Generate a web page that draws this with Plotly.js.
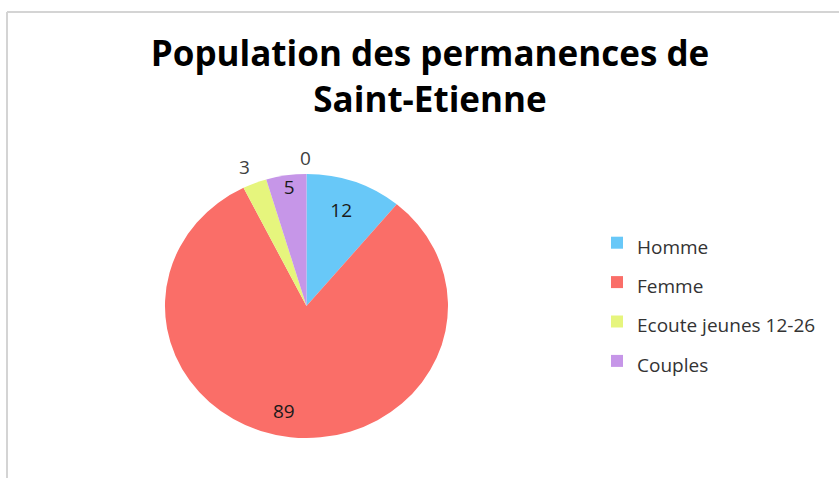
<!DOCTYPE html>
<html lang="fr">
<head>
    <meta charset="UTF-8">
    <title>Population des permanences de Saint-Etienne</title>
    <script src="https://cdn.plot.ly/plotly-3.0.1.min.js"></script>
    <style>
        body, html {
            margin: 0;
            padding: 0;
            background: white;
        }
        #chart {
            width: 839px;
            height: 478px;
        }
    </style>
</head>
<body>
    <div id="chart"></div>
    <script>
        // Values
        const categories = ['Homme', 'Femme', 'Ecoute jeunes 12-26', 'Couples'];
        const counts = [12, 89, 3, 5];
        const sliceColors = ['#68C8F8', '#FA6E68', '#E6F57D', '#C696E8'];
        const labelPositions = ['inside', 'inside', 'outside', 'inside'];
        // empty category shown only as its "0" label at the top of the pie
        const emptyCount = 0;

        const W = 839, H = 478;
        const FONT = '"Open Sans", "DejaVu Sans", sans-serif';
        const NB = '\u00a0';

        // legend spacing comes from the legend font size, the visible text is smaller
        const legendNames = categories.map(c => '<span style="font-size:19px">' + c + '</span>');
        // push the big slice's label further out (down and a bit left), like the original
        const bigPad = NB + '<br>' + NB + '<br>' + NB + '<br>';
        const labelTemplates = ['%{value}', bigPad + '%{value}' + NB.repeat(6), '%{value}', '%{value}'];

        const data = [{
            type: 'pie',
            labels: legendNames,
            values: counts,
            sort: false,
            direction: 'clockwise',
            rotation: 0,
            marker: { colors: sliceColors, line: { width: 0 } },
            texttemplate: labelTemplates,
            textposition: labelPositions,
            insidetextorientation: 'horizontal',
            textfont: { family: FONT, size: 19, color: '#1a1a1a' },
            outsidetextfont: { family: FONT, size: 19, color: '#404040' },
            hoverinfo: 'label+value',
            domain: { x: [0.2020, 0.5286], y: [0.0732, 0.6464] }
        }];

        const layout = {
            width: W,
            height: H,
            margin: { t: 0, r: 0, b: 0, l: 0 },
            paper_bgcolor: 'white',
            font: { family: FONT, color: '#333' },
            title: {
                text: 'Population des permanences de<br>Saint-Etienne',
                font: { family: FONT, size: 35, weight: 'bold', color: '#000' },
                x: 0.5125,
                xanchor: 'center',
                xref: 'paper',
                y: 1 - 66 / H,
                yref: 'container',
                yanchor: 'top'
            },
            showlegend: true,
            legend: {
                x: 597 / W,
                xanchor: 'left',
                y: 1 - 218 / H,
                yanchor: 'top',
                font: { family: FONT, size: 28, color: '#333' },
                bgcolor: 'rgba(0,0,0,0)'
            },
            annotations: [{
                text: String(emptyCount),
                xref: 'paper', yref: 'paper',
                x: 305 / W, y: 1 - 158 / H,
                xanchor: 'center', yanchor: 'middle',
                showarrow: false,
                font: { family: FONT, size: 19, color: '#404040' }
            }],
            shapes: [
                // chart frame, top and left edges
                { type: 'line', xref: 'paper', yref: 'paper', x0: 7 / W, x1: 1, y0: 1 - 12 / H, y1: 1 - 12 / H,
                  line: { color: '#d4d4d4', width: 2 } },
                { type: 'line', xref: 'paper', yref: 'paper', x0: 7 / W, x1: 7 / W, y0: 0, y1: 1 - 12 / H,
                  line: { color: '#d4d4d4', width: 2 } }
            ]
        };

        Plotly.newPlot('chart', data, layout, { displayModeBar: false, staticPlot: true }).then(gd => {
            // the original pie is a little wider than tall: stretch the slices only
            const cd0 = gd.calcdata[0][0];
            const sx = 1.033, sy = 0.9635;
            const t = 'translate(' + cd0.cx + ',' + cd0.cy + ') scale(' + sx + ',' + sy + ') translate(' + (-cd0.cx) + ',' + (-cd0.cy) + ')';
            gd.querySelectorAll('.pielayer path.surface').forEach(p => p.setAttribute('transform', t));
        });
    </script>
</body>
</html>
